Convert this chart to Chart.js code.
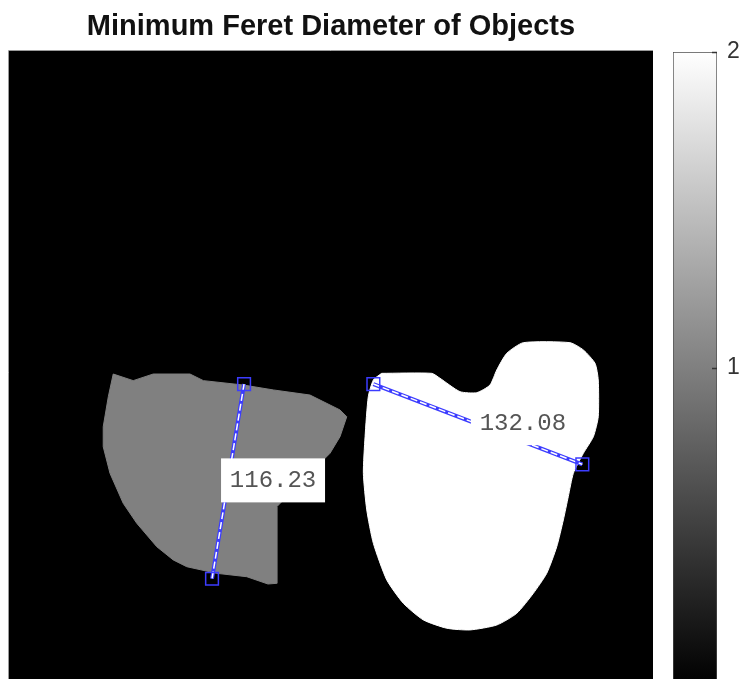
<!DOCTYPE html>
<html>
<head>
<meta charset="utf-8">
<script src="https://cdn.jsdelivr.net/npm/chart.js@4/dist/chart.umd.min.js"></script>
<style>
  html, body { margin: 0; padding: 0; background: #fff; overflow: hidden; }
  #wrap { position: relative; width: 743px; height: 679px; overflow: hidden; }
  #imgChart { position: absolute; left: 0; top: 0; }
  #cbChart { position: absolute; left: 660px; top: 0; }
</style>
</head>
<body>
<div id="wrap">
  <canvas id="imgChart" width="743" height="700"></canvas>
  <canvas id="cbChart" width="83" height="700"></canvas>
</div>
<script>
// image size (pixels) of the label matrix
const imageSize = 380;

// object outlines in image pixel coordinates
const grayShapeX = [62.0, 73.8, 85.6, 107.3, 115.2, 138.8, 156.5, 178.1, 195.8, 199.8, 195.8, 189.9, 184.0, 158.5, 158.5, 153.3, 140.8, 123.1, 105.4, 97.4, 87.7, 75.9, 67.9, 60.1, 56.1, 56.1, 59.1];
const grayShapeY = [191.1, 195.0, 191.1, 191.1, 195.0, 197.6, 200.5, 203.5, 212.3, 216.3, 228.1, 237.9, 243.8, 269.4, 314.6, 315.0, 310.7, 308.7, 304.8, 300.8, 293.0, 279.2, 267.4, 249.7, 234.0, 222.2, 204.5];
const whiteShapeX = [220.4, 249.9, 254.8, 266.6, 276.5, 284.3, 288.3, 294.2, 304.0, 331.5, 339.4, 346.3, 348.2, 348.2, 345.3, 339.4, 333.5, 330.5, 327.6, 323.7, 317.8, 309.9, 300.1, 288.3, 272.5, 258.8, 245.0, 233.2, 223.4, 215.5, 211.6, 209.6, 210.6, 212.5, 215.5];
const whiteShapeY = [190.7, 190.7, 193.6, 201.5, 202.1, 197.6, 188.7, 178.9, 172.6, 172.6, 176.9, 184.8, 194.6, 216.3, 228.1, 237.9, 249.7, 263.5, 277.2, 293.0, 308.7, 320.5, 332.3, 339.2, 342.1, 341.1, 336.2, 326.4, 312.6, 291.0, 271.3, 249.7, 228.1, 204.5, 194.6];

// minimum Feret diameter end points and values
const feretX = [[139.2, 120.3], [215.5, 338.8]];
const feretY = [[197.0, 311.9], [197.0, 244.4]];
const feretLabels = ['116.23', '132.08'];

// colorbar
const cbMin = 0;
const cbMax = 2;
const cbTickValues = [1, 2];

const BLUE = '#3c3cff';

function toPoints(xs, ys, close) {
  const pts = xs.map((x, i) => ({ x: x, y: ys[i] }));
  if (close) pts.push(pts[0]);
  return pts;
}

// fondo negro de la imagen + borde
const imageBackground = {
  id: 'imageBackground',
  beforeDatasetsDraw(chart) {
    const a = chart.chartArea, c = chart.ctx;
    c.save();
    c.fillStyle = '#000';
    c.fillRect(a.left, a.top, a.right - a.left, a.bottom - a.top);
    c.restore();
  },
  afterDraw(chart) {
    const a = chart.chartArea, c = chart.ctx;
    c.save();
    c.strokeStyle = '#9a9a9a';
    c.lineWidth = 1;
    c.beginPath();
    c.moveTo(a.left - 0.5, a.bottom);
    c.lineTo(a.left - 0.5, a.top - 0.5);
    c.lineTo(a.right, a.top - 0.5);
    c.stroke();
    c.restore();
  }
};

// etiquetas de distancia (cajas blancas con texto mono)
const feretLabelBoxes = {
  id: 'feretLabelBoxes',
  afterDatasetsDraw(chart) {
    const xs = chart.scales.x, ys = chart.scales.y, c = chart.ctx;
    c.save();
    feretLabels.forEach((txt, i) => {
      const mx = (xs.getPixelForValue(feretX[i][0]) + xs.getPixelForValue(feretX[i][1])) / 2;
      const my = (ys.getPixelForValue(feretY[i][0]) + ys.getPixelForValue(feretY[i][1])) / 2;
      const left = mx - 7, w = 104, h = 44;
      c.fillStyle = '#fff';
      c.fillRect(left, my - h / 2 - 1, w, h);
      c.fillStyle = '#555';
      c.font = "24px 'Liberation Mono', 'DejaVu Sans Mono', monospace";
      c.textAlign = 'center';
      c.textBaseline = 'middle';
      c.fillText(txt, left + w / 2, my - 1);
    });
    c.restore();
  }
};

const datasets = [
  {
    data: toPoints(grayShapeX, grayShapeY, true),
    showLine: true, fill: 'shape', tension: 0,
    backgroundColor: '#808080', borderColor: '#808080', borderWidth: 1,
    pointRadius: 0, order: 10
  },
  {
    data: toPoints(whiteShapeX, whiteShapeY, true),
    showLine: true, fill: 'shape', tension: 0.2,
    backgroundColor: '#ffffff', borderColor: '#ffffff', borderWidth: 1,
    pointRadius: 0, order: 10
  }
];

feretX.forEach((xs, i) => {
  const pts = toPoints(xs, feretY[i], false);
  datasets.push({
    data: pts, showLine: true, borderColor: BLUE, borderWidth: 4,
    pointRadius: 0, order: 5
  });
  datasets.push({
    data: pts, showLine: true, borderColor: '#ffffff', borderWidth: 1.5,
    borderDash: [7, 3], pointRadius: 0, order: 4
  });
  datasets.push({
    data: pts, showLine: false, pointStyle: 'rect', pointRadius: 9,
    pointBorderColor: BLUE, pointBorderWidth: 1.5,
    pointBackgroundColor: 'rgba(0,0,0,0)', order: 1
  });
});

new Chart(document.getElementById('imgChart'), {
  type: 'scatter',
  data: { datasets: datasets },
  options: {
    responsive: false,
    animation: false,
    layout: { autoPadding: false, padding: { left: 9, right: 90, top: 0, bottom: 5 } },
    plugins: {
      legend: { display: false },
      tooltip: { enabled: false },
      title: {
        display: true,
        text: 'Minimum Feret Diameter of Objects',
        color: '#111',
        font: { family: "'Liberation Sans', Arial, sans-serif", size: 29, weight: 'bold', lineHeight: 1.2 },
        padding: { top: 10, bottom: 6.2 }
      }
    },
    scales: {
      x: { type: 'linear', min: 0.5, max: imageSize + 0.5, display: false },
      y: { type: 'linear', min: 0.5, max: imageSize + 0.5, reverse: true, display: false }
    }
  },
  plugins: [imageBackground, feretLabelBoxes]
});

// barra de color: marcas hacia dentro
const cbInnerTicks = {
  id: 'cbInnerTicks',
  afterDraw(chart) {
    const a = chart.chartArea, c = chart.ctx, y = chart.scales.y;
    c.save();
    c.strokeStyle = '#333';
    c.lineWidth = 1.5;
    cbTickValues.forEach(v => {
      const py = Math.round(y.getPixelForValue(v)) + 0.5;
      c.beginPath();
      c.moveTo(a.right - 5, py);
      c.lineTo(a.right, py);
      c.stroke();
    });
    c.restore();
  }
};

new Chart(document.getElementById('cbChart'), {
  type: 'bar',
  data: {
    labels: [''],
    datasets: [{
      data: [cbMax],
      base: cbMin,
      barPercentage: 1,
      categoryPercentage: 1,
      borderWidth: 1,
      borderColor: '#4d4d4d',
      borderSkipped: false,
      backgroundColor: function (ctx) {
        const chart = ctx.chart;
        if (!chart.chartArea) return '#808080';
        const y = chart.scales.y;
        const g = chart.ctx.createLinearGradient(0, y.getPixelForValue(cbMin), 0, y.getPixelForValue(cbMax));
        g.addColorStop(0, '#000000');
        g.addColorStop(1, '#ffffff');
        return g;
      }
    }]
  },
  options: {
    responsive: false,
    animation: false,
    layout: { autoPadding: false, padding: { left: 13, top: 52, right: 0, bottom: 16 } },
    plugins: { legend: { display: false }, tooltip: { enabled: false } },
    scales: {
      x: { display: false },
      y: {
        position: 'right',
        min: cbMin,
        max: cbMax,
        grid: { drawOnChartArea: false, drawTicks: false },
        border: { display: false },
        afterBuildTicks: function (scale) {
          scale.ticks = cbTickValues.map(v => ({ value: v }));
        },
        afterFit: function (scale) {
          scale.width = 26;
          scale.paddingTop = 0;
          scale.paddingBottom = 0;
        },
        ticks: {
          padding: 10,
          color: '#333',
          font: { family: "'Liberation Sans', Arial, sans-serif", size: 23 }
        }
      }
    }
  },
  plugins: [cbInnerTicks]
});
</script>
</body>
</html>
